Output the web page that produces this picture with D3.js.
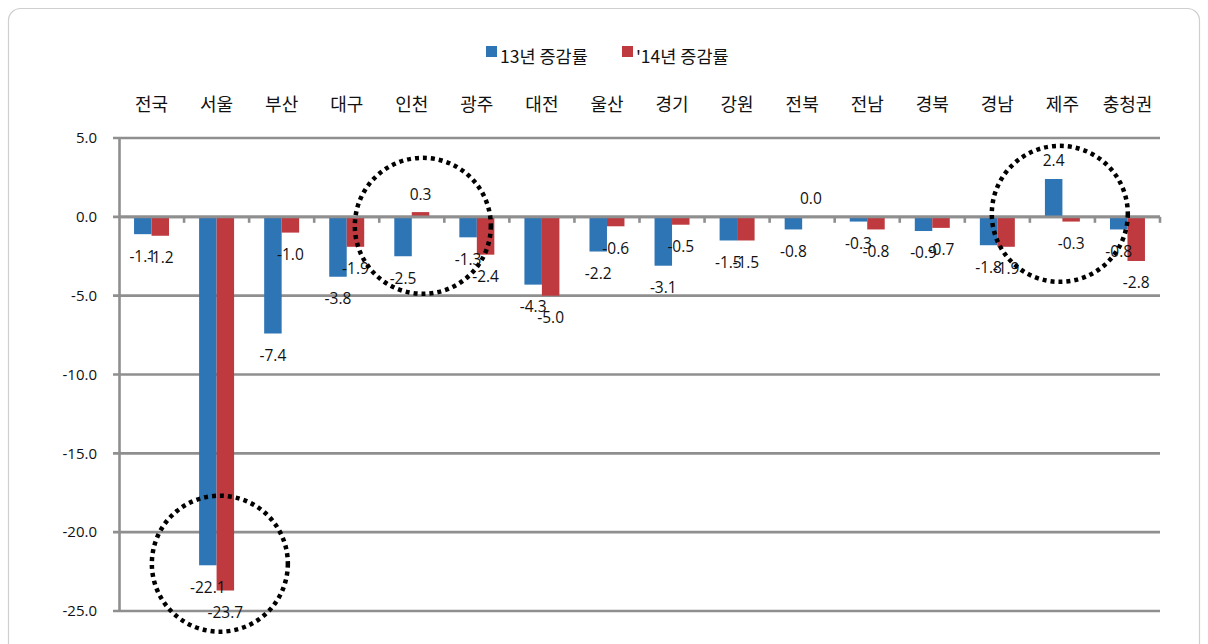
<!DOCTYPE html>
<html>
<head>
<meta charset="utf-8">
<script src="https://cdn.jsdelivr.net/npm/d3@7"></script>
<style>
  body { margin: 0; background: #fff; }
  svg text { font-family: "Noto Sans CJK KR", "Noto Sans", sans-serif; fill: #111; }
</style>
</head>
<body>
<svg id="chart" width="1208" height="644"></svg>
<script>
// Regions (category axis, shown on top)
const regions = ["전국", "서울", "부산", "대구", "인천", "광주", "대전", "울산",
  "경기", "강원", "전북", "전남", "경북", "경남", "제주", "충청권"];
// Growth rate (%) 2013
const rate13 = [-1.1, -22.1, -7.4, -3.8, -2.5, -1.3, -4.3, -2.2,
  -3.1, -1.5, -0.8, -0.3, -0.9, -1.8, 2.4, -0.8];
// Growth rate (%) 2014
const rate14 = [-1.2, -23.7, -1.0, -1.9, 0.3, -2.4, -5.0, -0.6,
  -0.5, -1.5, 0.0, -0.8, -0.7, -1.9, -0.3, -2.8];
const seriesNames = ["13년 증감률", "'14년 증감률"];
const yTicks = [5, 0, -5, -10, -15, -20, -25];
// highlighted spots (region, position inside its band, value at circle centre)
const highlights = [
  { region: "인천", pos: 0.67, value: -0.57 },
  { region: "제주", pos: 0.46, value: 0.19 },
  { region: "서울", pos: 0.55, value: -22.0 }
];

const colors = ["#2e75b6", "#be3a3f"];
const svg = d3.select("#chart");
const margin = { top: 138, right: 48, bottom: 33, left: 119 };
const width = 1208 - margin.left - margin.right;
const height = 644 - margin.top - margin.bottom;
const fmt = v => d3.format(".1f")(v).replace("−", "-");

// card frame
svg.append("rect")
  .attr("x", 8.5).attr("y", 8.5)
  .attr("width", 1191).attr("height", 700)
  .attr("rx", 12)
  .attr("fill", "#fff")
  .attr("stroke", "#cfcfcf")
  .attr("stroke-width", 1.2);

const g = svg.append("g").attr("transform", `translate(${margin.left},${margin.top})`);

const x = d3.scaleBand().domain(regions).range([0, width]).paddingInner(0).paddingOuter(0);
const xInner = d3.scaleBand().domain([0, 1]).range([0, x.bandwidth()]).paddingInner(0).paddingOuter(0.86);
const y = d3.scaleLinear().domain([-25, 5]).range([height, 0]);

// gridlines (with small tick stubs left of the axis)
g.selectAll(".grid")
  .data(yTicks)
  .join("line")
  .attr("x1", -6).attr("x2", width)
  .attr("y1", d => y(d)).attr("y2", d => y(d))
  .attr("stroke", "#8f8f8f")
  .attr("stroke-width", 2.6);

// y axis
const yAxis = g.append("g")
  .call(d3.axisLeft(y).tickValues(yTicks).tickFormat(fmt).tickSize(0).tickPadding(22));
yAxis.select(".domain").attr("stroke", "#8f8f8f").attr("stroke-width", 2.6);
yAxis.selectAll("text")
  .attr("x", -22)
  .attr("text-anchor", "end")
  .style("font-size", "15px")
  .style("font-family", "'Open Sans', 'Noto Sans', sans-serif")
  .style("fill", "#111");

// category labels at top
g.selectAll(".cat")
  .data(regions)
  .join("text")
  .attr("x", d => x(d) + x.bandwidth() / 2)
  .attr("y", 105 - margin.top)
  .attr("text-anchor", "middle")
  .attr("dy", "0.35em")
  .style("font-size", "18px")
  .text(d => d);

// bars
const rows = regions.map((r, i) => ({ region: r, vals: [rate13[i], rate14[i]] }));
const groups = g.selectAll(".grp")
  .data(rows)
  .join("g")
  .attr("transform", d => `translate(${x(d.region)},0)`);

groups.selectAll("rect")
  .data(d => d.vals.map((v, k) => ({ v, k })))
  .join("rect")
  .attr("x", d => xInner(d.k))
  .attr("width", xInner.bandwidth())
  .attr("y", d => y(Math.max(0, d.v)))
  .attr("height", d => Math.abs(y(d.v) - y(0)))
  .attr("fill", d => colors[d.k]);

// zero axis with ticks at category boundaries
g.append("line")
  .attr("x1", 0).attr("x2", width)
  .attr("y1", y(0)).attr("y2", y(0))
  .attr("stroke", "#8f8f8f").attr("stroke-width", 2.6);
g.selectAll(".ztick")
  .data(regions.map(r => x(r) + x.bandwidth()))
  .join("line")
  .attr("x1", d => d).attr("x2", d => d)
  .attr("y1", y(0)).attr("y2", y(0) + 6)
  .attr("stroke", "#8f8f8f").attr("stroke-width", 2.6);

// value labels
groups.selectAll(".lbl")
  .data(d => d.vals.map((v, k) => ({ v, k })))
  .join("text")
  .attr("x", d => xInner(d.k) + xInner.bandwidth() / 2)
  .attr("y", d => d.v >= 0 ? y(d.v) - 18 : y(d.v) + 22)
  .attr("text-anchor", "middle")
  .attr("dy", "0.35em")
  .style("font-size", "15.5px")
  .style("font-family", "'Open Sans', 'Noto Sans', sans-serif")
  .text(d => fmt(d.v));

// dotted circles
g.selectAll(".hl")
  .data(highlights)
  .join("circle")
  .attr("cx", d => x(d.region) + x.bandwidth() * d.pos)
  .attr("cy", d => y(d.value))
  .attr("r", 68)
  .attr("fill", "none")
  .attr("stroke", "#000")
  .attr("stroke-width", 4.5)
  .attr("stroke-dasharray", "4 4");

// legend
const legend = svg.append("g").attr("transform", "translate(486,56)");
const items = legend.selectAll("g")
  .data(seriesNames)
  .join("g")
  .attr("transform", (d, i) => `translate(${i * 136},0)`);
items.append("rect")
  .attr("x", 0).attr("y", -10)
  .attr("width", 11).attr("height", 11)
  .attr("fill", (d, i) => colors[i]);
items.append("text")
  .attr("x", 14).attr("y", 1)
  .attr("dy", "0.35em")
  .style("font-size", "17.5px")
  .text(d => d);
</script>
</body>
</html>
